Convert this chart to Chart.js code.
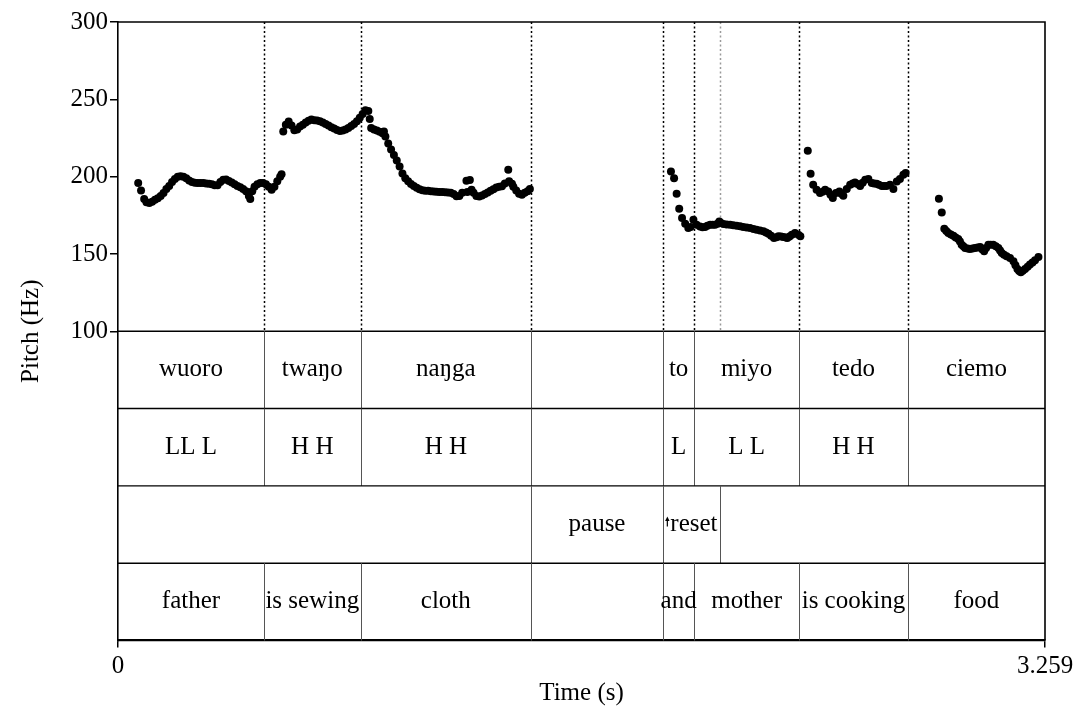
<!DOCTYPE html>
<html>
<head>
<meta charset="utf-8">
<script src="https://cdn.jsdelivr.net/npm/chart.js@4/dist/chart.umd.min.js"></script>
<style>
  html, body { margin: 0; padding: 0; background: #fff; }
  canvas { display: block; }
</style>
</head>
<body>
<canvas id="pitch" width="1078" height="712"></canvas>
<script>
// Time axis (s) and pitch axis (Hz)
const timeRange = [0, 3.259];
const pitchRange = [100, 300];
const pitchTicks = [100, 150, 200, 250, 300];
const timeTicks = [0, 3.259];

// Pitch track: frame times (s) and F0 values (Hz)
const pitchTimes = [
  // wuoro
  0.071, 0.081, 0.092, 0.10, 0.11, 0.12, 0.13, 0.14, 0.15, 0.16, 0.17, 0.18, 0.19, 0.20, 0.21, 0.22,
  0.23, 0.24, 0.25, 0.26, 0.27, 0.28, 0.29, 0.30, 0.31, 0.32, 0.33, 0.34, 0.35, 0.36, 0.37, 0.38,
  0.39, 0.40, 0.41, 0.42, 0.43, 0.44, 0.45, 0.46, 0.465, 0.472, 0.48, 0.49, 0.50, 0.51, 0.52, 0.53,
  0.54, 0.55, 0.56, 0.57, 0.575,
  // twaŋo, naŋga
  0.581, 0.59, 0.60, 0.61, 0.62, 0.63, 0.64, 0.65, 0.66, 0.67, 0.68, 0.69, 0.70, 0.71, 0.72, 0.73,
  0.74, 0.75, 0.76, 0.77, 0.78, 0.79, 0.80, 0.81, 0.82, 0.83, 0.84, 0.85, 0.86, 0.87, 0.88, 0.885,
  0.89, 0.90, 0.91, 0.92, 0.93, 0.935, 0.94, 0.95, 0.96, 0.97, 0.98, 0.99, 1.00, 1.01, 1.02, 1.03,
  1.04, 1.05, 1.06, 1.07, 1.08, 1.09, 1.10, 1.11, 1.12, 1.13, 1.14, 1.15, 1.16, 1.17, 1.18, 1.19,
  1.20, 1.21, 1.225, 1.228, 1.237, 1.243, 1.25, 1.26, 1.27, 1.28, 1.29, 1.30, 1.31, 1.32, 1.33, 1.34,
  1.35, 1.36, 1.372, 1.375, 1.385, 1.39, 1.40, 1.41, 1.42, 1.43, 1.44, 1.448,
  // to, miyo
  1.944, 1.955, 1.964, 1.973, 1.983, 1.994, 2.005, 2.013, 2.023, 2.034, 2.046, 2.055, 2.064, 2.072,
  2.082, 2.091, 2.099, 2.108, 2.114, 2.120, 2.128, 2.140, 2.152, 2.163, 2.175, 2.187, 2.198, 2.210,
  2.222, 2.234, 2.245, 2.257, 2.269, 2.278, 2.287, 2.296, 2.306, 2.315, 2.322, 2.331, 2.339, 2.348,
  2.353, 2.361, 2.369, 2.380, 2.392, 2.399,
  // tedo
  2.425, 2.435, 2.444, 2.456, 2.468, 2.477, 2.486, 2.497, 2.505, 2.513, 2.524, 2.536, 2.543, 2.550,
  2.562, 2.574, 2.583, 2.591, 2.600, 2.609, 2.618, 2.627, 2.638, 2.650, 2.658, 2.667, 2.675, 2.685,
  2.693, 2.702, 2.714, 2.726, 2.738, 2.749, 2.761, 2.769,
  // ciemo
  2.886, 2.896, 2.905, 2.912, 2.919, 2.928, 2.937, 2.945, 2.954, 2.960, 2.966, 2.972, 2.978, 2.987,
  2.995, 3.004, 3.013, 3.022, 3.031, 3.038, 3.045, 3.052, 3.060, 3.068, 3.077, 3.086, 3.095, 3.101,
  3.107, 3.115, 3.124, 3.136, 3.148, 3.155, 3.162, 3.168, 3.174, 3.181, 3.189, 3.198, 3.206, 3.215,
  3.224, 3.236
];
const pitchHz = [
  // wuoro
  195.8, 191, 185.5, 183.5, 183, 183.8, 185, 186, 187.5, 189.4, 192, 194, 196.5, 198.5, 200, 200.3,
  200, 199, 197.5, 196.5, 196, 195.8, 195.8, 195.8, 195.6, 195.4, 195, 194.5, 194.5, 196.5, 198, 198.2,
  197.2, 196.2, 195, 194, 193.2, 192, 190.5, 187.5, 185.5, 190.5, 193.5, 195, 195.8, 195.8, 195, 193.5,
  191.5, 193.5, 197, 200, 201.6,
  // twaŋo, naŋga
  229.2, 233.5, 235.6, 233, 230, 230.5, 232.4, 233.5, 235, 236.2, 237, 236.5, 236.3, 235.8, 235, 234,
  233, 232, 231.2, 230.2, 229.5, 229.8, 230.5, 231.5, 232.8, 234, 235.8, 238, 240.5, 243, 242.5, 237.2,
  231.4, 230.5, 229.8, 229, 228.1, 229.2, 226, 221.5, 217.5, 214, 210.5, 206.5, 202, 199, 197, 195.3,
  194, 192.8, 191.8, 191.2, 190.9, 190.8, 190.6, 190.4, 190.2, 190, 190, 189.9, 189.8, 189.5, 188.7, 187.3,
  187.5, 189.5, 197.3, 190, 197.8, 191.5, 189.5, 187.5, 187.2, 187.8, 188.7, 189.8, 190.8, 191.8, 193, 193.4,
  193.8, 195.5, 204.4, 197, 195.4, 193.5, 191, 189, 188.3, 189.5, 190.6, 192,
  // to, miyo
  203.3, 199, 188.9, 179.2, 173.2, 169.5, 166.8, 167.5, 172.1, 168.9, 167.8, 167.3, 167.4, 168.2,
  168.9, 168.9, 168.9, 169.5, 171, 170, 169.3, 169.1, 168.9, 168.6, 168.3, 167.9, 167.4, 167.1,
  166.8, 166.2, 165.7, 165.2, 164.6, 163.8, 163.1, 161.8, 160.3, 160.8, 161.4, 161.2, 161, 160.6,
  160.3, 161.3, 162.4, 163.5, 162.4, 161.5,
  // tedo
  216.7, 201.8, 194.7, 191.5, 189.4, 190.2, 191.5, 190.4, 188.2, 186.1, 189.4, 190.4, 189, 187.6,
  192, 194.7, 195.5, 196.2, 195.2, 194, 196, 198, 198.4, 195.8, 195.6, 195.4, 194.7, 194,
  194, 194, 194.7, 192, 196.9, 198.4, 201.2, 202.3,
  // ciemo
  185.7, 176.8, 166.3, 164.8, 163.5, 162.6, 161.8, 160.7, 159.6, 158, 156, 155, 153.9, 153.5,
  153.2, 153.5, 153.9, 154.2, 154.5, 153, 151.7, 153.8, 156, 156, 156, 155, 153.9, 152.2,
  150.6, 149.5, 148.5, 147.4, 145.2, 142.7, 140.3, 139, 138.1, 139.2, 140.3, 141.7, 143.1, 144.5,
  145.9, 148
];

// Annotation tiers: interval boundaries (s) and one label per interval
const wordBounds = [0.513, 0.853, 1.452, 1.916, 2.026, 2.394, 2.777];
const wordLabels = ['wuoro', 'twaŋo', 'naŋga', '', 'to', 'miyo', 'tedo', 'ciemo'];
const toneBounds = [0.513, 0.853, 1.452, 1.916, 2.026, 2.394, 2.777];
const toneLabels = ['LL L', 'H H', 'H H', '', 'L', 'L L', 'H H', ''];
const eventBounds = [1.452, 1.916, 2.116];
const eventLabels = ['', 'pause', '↑reset', ''];
const glossBounds = [0.513, 0.853, 1.452, 1.916, 2.026, 2.394, 2.777];
const glossLabels = ['father', 'is sewing', 'cloth', '', 'and', 'mother', 'is cooking', 'food'];

const tiers = [
  { bounds: wordBounds, labels: wordLabels },
  { bounds: toneBounds, labels: toneLabels },
  { bounds: eventBounds, labels: eventLabels },
  { bounds: glossBounds, labels: glossLabels }
];

const FONT_FAMILY = "'Liberation Serif', 'Times New Roman', serif";
const FONT_SIZE = 25;
const TIER_SPAN = 50; // height of one tier in y-scale units, stacked below the pitch floor

// small upward arrow drawn in front of a label that starts with '↑'
function drawUpArrow(ctx, x, yTop, yBot) {
  ctx.save();
  ctx.strokeStyle = '#000';
  ctx.fillStyle = '#000';
  ctx.lineWidth = 1.2;
  ctx.beginPath();
  ctx.moveTo(x, yTop + 3);
  ctx.lineTo(x, yBot);
  ctx.stroke();
  ctx.beginPath();
  ctx.moveTo(x, yTop);
  ctx.lineTo(x - 2.2, yTop + 4.5);
  ctx.lineTo(x + 2.2, yTop + 4.5);
  ctx.closePath();
  ctx.fill();
  ctx.restore();
}

const textGrid = {
  id: 'textGrid',
  beforeDatasetsDraw(chart) {
    const { ctx, scales: { x, y } } = chart;
    const yTop = y.getPixelForValue(pitchRange[1]);
    const yBot = y.getPixelForValue(pitchRange[0]);
    const marks = [...new Set([...wordBounds, ...eventBounds])];
    ctx.save();
    ctx.lineWidth = 1.5;
    ctx.setLineDash([2, 2.5]);
    marks.forEach(t => {
      ctx.strokeStyle = wordBounds.includes(t) ? '#000' : '#9a9a9a';
      const px = Math.round(x.getPixelForValue(t)) + 0.5;
      ctx.beginPath();
      ctx.moveTo(px, yTop);
      ctx.lineTo(px, yBot);
      ctx.stroke();
    });
    ctx.restore();
  },
  afterDraw(chart) {
    const { ctx, chartArea: a, scales: { x, y } } = chart;
    ctx.save();
    // frame: top and right edges
    ctx.strokeStyle = '#000';
    ctx.lineWidth = 1.6;
    ctx.beginPath();
    ctx.moveTo(a.left, a.top);
    ctx.lineTo(a.right, a.top);
    ctx.lineTo(a.right, a.bottom);
    ctx.stroke();

    tiers.forEach((tier, i) => {
      const top = y.getPixelForValue(pitchRange[0] - TIER_SPAN * i);
      const bot = y.getPixelForValue(pitchRange[0] - TIER_SPAN * (i + 1));
      // tier top line
      ctx.strokeStyle = '#000';
      ctx.lineWidth = 1.4;
      ctx.beginPath();
      ctx.moveTo(a.left, top);
      ctx.lineTo(a.right, top);
      ctx.stroke();
      // interval boundaries
      ctx.strokeStyle = '#555';
      ctx.lineWidth = 1;
      tier.bounds.forEach(t => {
        const px = Math.round(x.getPixelForValue(t)) + 0.5;
        ctx.beginPath();
        ctx.moveTo(px, top);
        ctx.lineTo(px, bot);
        ctx.stroke();
      });
      // labels
      const edges = [timeRange[0], ...tier.bounds, timeRange[1]];
      const cy = (top + bot) / 2;
      ctx.fillStyle = '#000';
      ctx.textBaseline = 'middle';
      ctx.font = `${FONT_SIZE}px ${FONT_FAMILY}`;
      tier.labels.forEach((label, k) => {
        if (!label) return;
        const cx = (x.getPixelForValue(edges[k]) + x.getPixelForValue(edges[k + 1])) / 2;
        if (label.startsWith('↑')) {
          const rest = label.slice(1);
          const wRest = ctx.measureText(rest).width;
          const wArrow = 5;
          const start = cx - (wRest + wArrow) / 2;
          drawUpArrow(ctx, start + 2, cy - 8, cy + 2);
          ctx.textAlign = 'left';
          ctx.fillText(rest, start + wArrow, cy);
        } else {
          ctx.textAlign = 'center';
          ctx.fillText(label, cx, cy);
        }
      });
    });
    ctx.restore();
  }
};

const axisFont = { family: FONT_FAMILY, size: FONT_SIZE };

new Chart(document.getElementById('pitch'), {
  type: 'scatter',
  data: {
    datasets: [{
      data: pitchTimes.map((t, i) => ({ x: t, y: pitchHz[i] })),
      pointRadius: 4,
      pointBackgroundColor: '#000',
      pointBorderWidth: 0,
      showLine: false
    }]
  },
  options: {
    responsive: false,
    animation: false,
    devicePixelRatio: 1,
    layout: { padding: { top: 22, right: 33, left: 0, bottom: 0 } },
    plugins: { legend: { display: false }, tooltip: { enabled: false } },
    scales: {
      x: {
        type: 'linear',
        min: timeRange[0],
        max: timeRange[1],
        afterBuildTicks: s => { s.ticks = timeTicks.map(v => ({ value: v })); },
        afterFit: s => { s.height = 71.5; },
        ticks: { font: axisFont, color: '#000', padding: 4, maxRotation: 0, autoSkip: false, callback: v => String(v) },
        grid: { drawOnChartArea: false, tickLength: 7, color: '#000', lineWidth: 1.5 },
        border: { color: '#000', width: 2.2 },
        title: { display: true, text: 'Time (s)', font: axisFont, color: '#000', padding: { top: 0, bottom: 4 } }
      },
      y: {
        type: 'linear',
        min: pitchRange[0] - TIER_SPAN * tiers.length,
        max: pitchRange[1],
        afterBuildTicks: s => { s.ticks = pitchTicks.map(v => ({ value: v })); },
        afterFit: s => { s.width = 118; },
        ticks: { font: axisFont, color: '#000', padding: 2, autoSkip: false, callback: v => String(v) },
        grid: { drawOnChartArea: false, tickLength: 8, color: '#000', lineWidth: 1.5 },
        border: { color: '#000', width: 1.6 },
        title: { display: true, text: 'Pitch (Hz)', font: axisFont, color: '#000', padding: { top: 16, bottom: 0 } }
      }
    }
  },
  plugins: [textGrid]
});
</script>
</body>
</html>
